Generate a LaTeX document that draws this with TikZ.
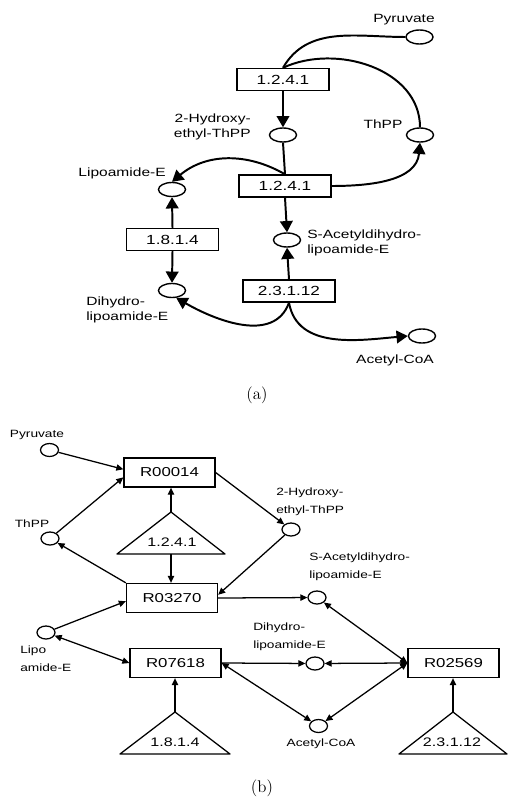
\documentclass[tikz,border=0pt]{standalone}
\usepackage{fontspec}
\newfontfamily\arial[FakeStretch=1.3]{Liberation Sans}
\usetikzlibrary{positioning, shapes, arrows.meta}
\tikzset{
  met/.style={draw, ellipse, line width=1pt, minimum width=0.675cm, minimum height=0.35cm, inner sep=0pt},
  ec/.style={draw, rectangle, line width=1pt, minimum width=2.3cm, minimum height=0.55cm, inner sep=0pt, font=\arial\fontsize{9.4}{11}\selectfont},
  lab/.style={font=\arial\fontsize{8.5}{10.6}\selectfont, inner sep=0pt},
  flow/.style={line width=1.4pt, -{Triangle[length=8pt,width=9pt]}},
  link/.style={line width=1.4pt},
  smet/.style={draw, ellipse, line width=0.9pt, minimum width=0.45cm, minimum height=0.325cm, inner sep=0pt},
  rxn/.style={draw, rectangle, line width=0.9pt, minimum width=2.275cm, minimum height=0.725cm, inner sep=0pt, font=\arial\fontsize{9.2}{11}\selectfont},
  slab/.style={font=\arial\fontsize{7.5}{13}\selectfont, inner sep=0pt},
  enz/.style={font=\arial\fontsize{8.8}{11}\selectfont, inner sep=0pt},
  tri/.style={line width=0.9pt, line join=round},
  sarr/.style={line width=0.9pt, -{Triangle[length=5pt,width=4.5pt]}},
  darr/.style={line width=0.9pt, {Triangle[length=5pt,width=4.5pt]}-{Triangle[length=5pt,width=4.5pt]}},
  subcap/.style={font=\large}
}

\begin{document}
\begin{tikzpicture}[x=0.025cm, y=0.025cm]
\useasboundingbox (0,0) rectangle (508,-801);
% (a)
\node[ec] (e1) at (283,-79.5) {1.2.4.1};
\node[ec] (e2) at (285,-186) {1.2.4.1};
\node[ec] (e3) at (172.5,-239.5) {1.8.1.4};
\node[ec] (e4) at (289,-291) {2.3.1.12};
\node[met] (pyrA) at (419.5,-37) {};
\node[met] (hyA) at (283,-135) {};
\node[met] (thA) at (420,-135) {};
\node[met] (lipA) at (172,-189.5) {};
\node[met] (dihA) at (172,-290.5) {};
\node[met] (sacA) at (287,-240) {};
\node[met] (acoA) at (422,-336) {};
\node[lab] (pyrAl) at (404,-20) {Pyruvate};
\node[lab, align=right, anchor=east] (hyAl) at (251,-127) {2-Hydroxy-\\ethyl-ThPP};
\node[lab] (thAl) at (383,-124) {ThPP};
\node[lab, anchor=east] (lipAl) at (166,-173) {Lipoamide-E};
\node[lab, align=left, anchor=west] (dihAl) at (86,-310) {Dihydro-\\lipoamide-E};
\node[lab, align=left, anchor=west] (sacAl) at (307,-243) {S-Acetyldihydro-\\lipoamide-E};
\node[lab] (acoAl) at (395,-360) {Acetyl-CoA};
\draw[link] (pyrA.west) to[out=180,in=60] (e1.north);
\draw[link] (thA.north) to[out=90,in=25] (e1.north);
\draw[flow] (e1.south) -- (hyA.north);
\draw[link] (hyA.south) -- (e2.north);
\draw[flow] (e2.north) to[out=150,in=40] (lipA.north);
\draw[flow] (e2.east) to[out=0,in=-95] (thA.south);
\draw[flow] (e3.north) -- (lipA.south);
\draw[flow] (e3.south) -- (dihA.north);
\draw[flow] (e2.south) -- (sacA.north);
\draw[flow] (e4.north) -- (sacA.south);
\draw[flow] (e4.south) to[out=-110,in=-30] (dihA.-60);
\draw[flow] (e4.south) to[out=-80,in=185] (acoA.west);
\node[subcap] (capA) at (257,-395) {(a)};
% (b)
\node[rxn] (R00014) at (169.5,-472.5) {R00014};
\node[rxn] (R03270) at (172,-598) {R03270};
\node[rxn] (R07618) at (175.5,-663) {R07618};
\node[rxn] (R02569) at (453.5,-663) {R02569};
\node[smet] (pyrB) at (49.5,-450) {};
\node[smet] (thB) at (50,-538.5) {};
\node[smet] (hyB) at (291,-529.5) {};
\node[smet] (sacB) at (317,-597.5) {};
\node[smet] (lipB) at (46,-632.5) {};
\node[smet] (dihB) at (315,-663.5) {};
\node[smet] (acoB) at (318.5,-726) {};
\node[slab] (pyrBl) at (37,-435) {Pyruvate};
\node[slab] (thBl) at (32,-524) {ThPP};
\node[slab, align=left, anchor=west] (hyBl) at (276,-502) {2-Hydroxy-\\ethyl-ThPP};
\node[slab, align=left, anchor=west] (sacBl) at (309,-567) {S-Acetyldihydro-\\lipoamide-E};
\node[slab, align=left, anchor=west] (lipBl) at (20,-659) {Lipo\\amide-E};
\node[slab, align=left, anchor=west] (dihBl) at (253,-637) {Dihydro-\\lipoamide-E};
\node[slab] (acoBl) at (321,-744) {Acetyl-CoA};
% enzymes
\coordinate (t1) at (171,-512);
\coordinate (t1b) at (171,-554);
\coordinate (t2) at (175,-712);
\coordinate (t3) at (453,-712);
\draw[tri] (t1) -- ++(-54,-42) -- ++(108,0) -- cycle;
\draw[tri] (t2) -- ++(-55,-42) -- ++(110,0) -- cycle;
\draw[tri] (t3) -- ++(-54,-42) -- ++(108,0) -- cycle;
\node[enz] (t1l) at (172,-542) {1.2.4.1};
\node[enz] (t2l) at (175,-742) {1.8.1.4};
\node[enz] (t3l) at (452,-742) {2.3.1.12};
\draw[sarr] (pyrB) -- (R00014.176);
\draw[sarr] (thB) -- (R00014.186);
\draw[sarr] (t1) -- (t1 |- R00014.south);
\draw[sarr] (t1b) -- (t1b |- R03270.north);
\draw[sarr] (R00014.east) -- (hyB);
\draw[sarr] (hyB) -- (R03270.4);
\draw[sarr] (R03270.north west) -- (thB);
\draw[sarr] (lipB) -- (R03270.184);
\draw[darr] (lipB) -- (R07618.west);
\draw[sarr] (R03270.east) -- (sacB);
\draw[darr] (sacB) -- (R02569.west);
\draw[sarr] (R07618.east) -- (dihB);
\draw[darr] (dihB) -- (R02569.west);
\draw[darr] (R07618.east) -- (acoB);
\draw[darr] (acoB) -- (R02569.west);
\draw[sarr] (t2) -- (t2 |- R07618.south);
\draw[sarr] (t3) -- (t3 |- R02569.south);
\node[subcap] (capB) at (262,-788) {(b)};
\end{tikzpicture}
\end{document}
